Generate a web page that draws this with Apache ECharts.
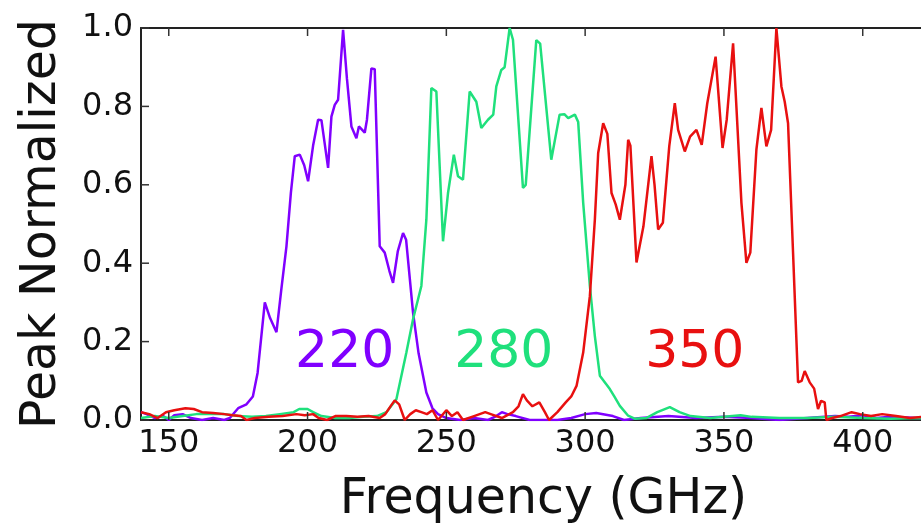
<!DOCTYPE html>
<html>
<head>
<meta charset="utf-8">
<script src="https://cdn.jsdelivr.net/npm/echarts@6/dist/echarts.min.js"></script>
<style>
html,body{margin:0;padding:0;background:#fff;overflow:hidden;width:921px;height:530px;}
#chart{width:946px;height:530px;}
</style>
</head>
<body>
<div id="chart"></div>
<script>
// Frequency (GHz) / normalized value pairs
const purple = [[140,0.02],[142,0.015],[145,0.005],[148,0.01],[150,0.0],[152,0.012],[155,0.015],[158,0.005],[162,0.0],[166,0.005],[170,0.0],[172,0.005],[175,0.03],[178,0.04],[180.3,0.06],[182,0.12],[184.6,0.30],[186.5,0.26],[188.8,0.224],[190.5,0.33],[192.4,0.443],[194,0.58],[195.4,0.673],[197.2,0.677],[198.8,0.65],[200.2,0.609],[202,0.70],[203.8,0.766],[205,0.765],[207.4,0.643],[208.6,0.774],[209.8,0.804],[211,0.817],[212.8,0.995],[214.2,0.87],[215.8,0.749],[217.6,0.719],[218.5,0.749],[220.6,0.733],[221.4,0.766],[223,0.897],[224.2,0.895],[226,0.443],[227.8,0.427],[229.5,0.38],[230.8,0.35],[232.5,0.43],[234.4,0.477],[235.5,0.46],[238,0.274],[240,0.17],[242.8,0.07],[245,0.03],[247,0.015],[250,0.005],[255,0.0],[260,0.005],[265,0.0],[268,0.01],[270,0.02],[272,0.015],[275,0.01],[280,0.0],[290,0.0],[295,0.005],[300,0.015],[304,0.018],[310,0.01],[314,0.0],[320,0.005],[330,0.01],[340,0.005],[350,0.008],[360,0.005],[370,0.0],[380,0.005],[390,0.01],[395,0.008],[400,0.012],[405,0.005],[410,0.008],[420,0.005],[430,0.003]];
const green = [[140,0.005],[145,0.01],[150,0.005],[155,0.01],[160,0.015],[165,0.015],[170,0.015],[175,0.01],[180,0.008],[185,0.01],[190,0.015],[195,0.02],[197,0.028],[200,0.028],[202,0.02],[205,0.01],[210,0.005],[215,0.005],[220,0.008],[225,0.01],[228.4,0.02],[232,0.053],[235.6,0.172],[238,0.257],[241,0.342],[242.8,0.511],[244.6,0.847],[246.4,0.838],[248.8,0.456],[250.6,0.579],[252.7,0.677],[254.2,0.622],[256,0.613],[258.4,0.838],[260.8,0.812],[262.6,0.745],[265,0.766],[266.9,0.779],[268,0.851],[269.8,0.893],[271,0.9],[272.8,1.0],[274,0.97],[277.6,0.592],[278.6,0.6],[282.4,0.969],[283.8,0.96],[287.8,0.664],[290.8,0.779],[292.5,0.78],[293.9,0.770],[296.3,0.779],[297.5,0.76],[299.3,0.554],[301.7,0.342],[303.5,0.214],[305.3,0.113],[308.9,0.079],[310.5,0.06],[312.5,0.036],[315.5,0.011],[318,0.003],[322,0.005],[326,0.02],[330.5,0.033],[334,0.02],[338,0.01],[345,0.005],[350,0.008],[356,0.012],[360,0.008],[370,0.005],[380,0.005],[390,0.008],[400,0.005],[410,0.003],[420,0.005],[430,0.003]];
const red = [[140,0.02],[143,0.015],[146,0.005],[149,0.02],[152,0.025],[156,0.03],[159,0.028],[162,0.02],[166,0.018],[170,0.015],[173,0.012],[176,0.01],[178,0.0],[181,0.005],[186,0.008],[191,0.01],[196,0.015],[199,0.012],[202,0.015],[204,0.005],[207,0.0],[210,0.01],[214,0.01],[218,0.008],[222,0.01],[226,0.005],[228,0.015],[230,0.036],[231.4,0.05],[233,0.04],[235,0.0],[237,0.015],[239,0.025],[241,0.02],[243,0.015],[245,0.025],[247,0.0],[250,0.025],[252,0.01],[254,0.02],[256,0.0],[260,0.01],[264,0.02],[266,0.015],[270,0.005],[274,0.02],[276,0.035],[277.6,0.066],[279,0.05],[281,0.035],[283.5,0.045],[285.5,0.02],[287,0.0],[290,0.02],[293,0.045],[295,0.06],[296.9,0.087],[299.3,0.172],[301.7,0.316],[303.5,0.511],[304.7,0.681],[306.5,0.757],[308,0.73],[309.5,0.579],[311,0.55],[312.5,0.511],[314.5,0.6],[315.5,0.715],[316.3,0.7],[318.5,0.402],[321,0.494],[323.9,0.673],[325,0.6],[326.3,0.486],[328,0.503],[330.3,0.698],[332.3,0.808],[333.5,0.74],[335.9,0.685],[337.8,0.723],[340.1,0.740],[342,0.702],[344,0.808],[347,0.927],[349.5,0.694],[351,0.766],[353.3,0.961],[356.3,0.554],[358.1,0.401],[359.5,0.427],[361.7,0.690],[363.5,0.796],[365.3,0.698],[367,0.740],[368.9,1.0],[370.7,0.851],[371.9,0.812],[373.1,0.757],[374.9,0.427],[376.7,0.096],[378,0.1],[379.1,0.125],[380.9,0.096],[382.5,0.08],[383.9,0.028],[385,0.049],[386.3,0.045],[386.9,0.0],[389,0.005],[392,0.01],[396,0.02],[399,0.015],[403,0.01],[407,0.015],[412,0.01],[417,0.005],[422,0.008],[430,0.005]];

const bandLabels = ['220', '280', '350'];
const bandLabelPos = [[213.4, 0.17], [270.7, 0.17], [339.5, 0.17]];
const xTickLabels = [150, 200, 250, 300, 350, 400];
const yTickLabels = [0.0, 0.2, 0.4, 0.6, 0.8, 1.0];

const colors = ['#8000ff', '#1fe07c', '#e81010'];
const FONT = 'DejaVu Sans';
const X_MIN = 140, X_MAX = 430;

const chart = echarts.init(document.getElementById('chart'));

const lineSeries = [purple, green, red].map((d, i) => ({
  type: 'line',
  data: d,
  showSymbol: false,
  lineStyle: {color: colors[i], width: 2.5},
  silent: true
}));

// inward tick marks drawn through the axes' own scales
// kind 0 = bottom x tick, 1 = top x tick, 2 = left y tick
const tickData = []
  .concat(xTickLabels.map(v => [0, v]))
  .concat(xTickLabels.map(v => [1, v]))
  .concat(yTickLabels.map(v => [2, v]));

const tickSeries = {
  type: 'custom',
  silent: true,
  z: 20,
  encode: {x: 1, y: 1},
  data: tickData,
  renderItem: function (params, api) {
    const kind = api.value(0), v = api.value(1), L = 8;
    let p, shape;
    if (kind === 0) {
      p = api.coord([v, 0]);
      shape = {x1: p[0], y1: p[1], x2: p[0], y2: p[1] - L};
    } else if (kind === 1) {
      p = api.coord([v, 1]);
      shape = {x1: p[0], y1: p[1], x2: p[0], y2: p[1] + L};
    } else {
      p = api.coord([X_MIN, v]);
      shape = {x1: p[0], y1: p[1], x2: p[0] + L, y2: p[1]};
    }
    return {type: 'line', shape: shape, style: {stroke: '#333', lineWidth: 1.5}};
  }
};

chart.setOption({
  backgroundColor: '#fff',
  animation: false,
  grid: {left: 141, top: 28, bottom: 109, right: 0},
  xAxis: [{
    type: 'value', min: X_MIN, max: X_MAX,
    name: 'Frequency (GHz)', nameLocation: 'middle', nameGap: 56,
    nameTextStyle: {fontSize: 49, fontFamily: FONT, color: '#111'},
    axisLine: {show: true, onZero: false, lineStyle: {color: '#222', width: 2}},
    axisTick: {show: false},
    axisLabel: {show: true, customValues: xTickLabels, fontSize: 32, fontFamily: FONT, color: '#111', margin: 8},
    splitLine: {show: false}
  }, {
    type: 'value', position: 'top', min: X_MIN, max: X_MAX,
    axisLine: {show: true, onZero: false, lineStyle: {color: '#222', width: 2}},
    axisTick: {show: false},
    axisLabel: {show: false},
    splitLine: {show: false}
  }],
  yAxis: {
    type: 'value', min: 0, max: 1, interval: 0.2,
    name: 'Peak Normalized', nameLocation: 'middle', nameGap: 74, nameRotate: 90,
    nameTextStyle: {fontSize: 49, fontFamily: FONT, color: '#111'},
    axisLine: {show: true, onZero: false, lineStyle: {color: '#222', width: 2}},
    axisTick: {show: false},
    axisLabel: {fontSize: 32, fontFamily: FONT, color: '#111', margin: 8,
      formatter: v => yTickLabels.reduce((a, t) => Math.abs(t - v) < 1e-6 ? t.toFixed(1) : a, v.toFixed(1))},
    splitLine: {show: false}
  },
  series: [...lineSeries, tickSeries]
});

// band labels placed through the chart's own axis scales
const graphicEls = bandLabelPos.map((p, i) => {
  const px = chart.convertToPixel({xAxisIndex: 0, yAxisIndex: 0}, p);
  return {
    type: 'text', x: px[0], y: px[1], z: 100, silent: true,
    style: {text: bandLabels[i], fill: colors[i], fontSize: 52, fontFamily: FONT,
      align: 'center', verticalAlign: 'middle', textAlign: 'center', textVerticalAlign: 'middle'}
  };
});
chart.setOption({graphic: graphicEls});
</script>
</body>
</html>
